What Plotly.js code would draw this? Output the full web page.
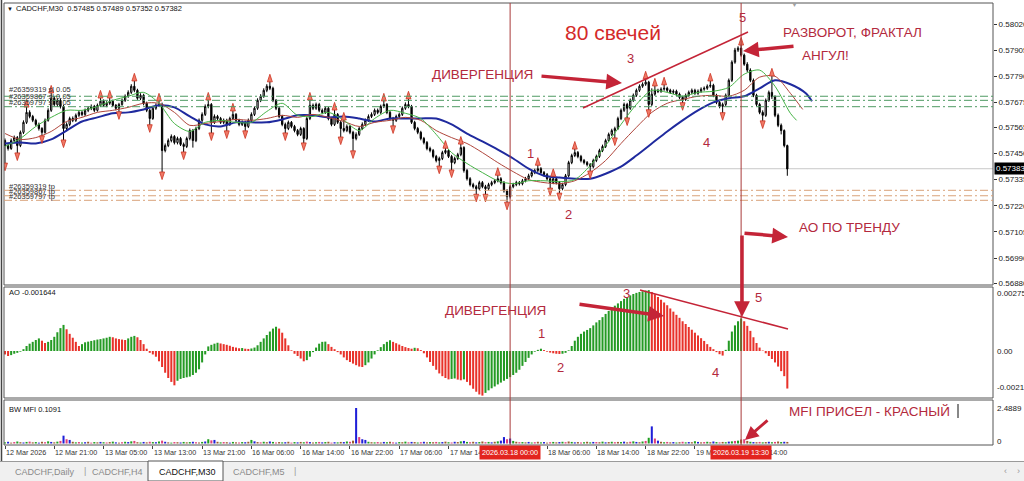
<!DOCTYPE html>
<html><head><meta charset="utf-8">
<script src="https://cdn.plot.ly/plotly-3.0.1.min.js"></script>
<style>html,body{margin:0;padding:0;background:#fff;}#c{width:1024px;height:481px;}</style>
</head><body><div id="c"></div>
<script>
// ---- DATA (prices as points above 0.57000, i.e. price = 0.57 + pts/100000) ----
const openPts = [507,485,472,507,520,485,543,587,631,613,596,578,560,543,596,640,693,666,684,657,
560,578,604,596,618,631,622,640,649,657,640,662,680,662,671,680,662,649,666,684,
702,719,746,728,693,706,671,640,604,649,662,666,463,485,507,525,498,516,490,481,
516,551,507,560,596,622,657,666,587,613,604,587,596,578,604,622,596,578,587,569,
596,622,649,684,702,728,746,737,684,649,613,578,560,587,569,551,534,560,516,604,
662,649,666,640,631,649,604,578,622,587,560,551,569,543,516,534,560,578,596,613,
622,640,631,657,666,631,604,596,613,622,649,666,657,587,560,543,516,498,472,463,
437,419,428,454,463,437,410,428,445,476,375,339,313,304,295,322,304,295,313,322,
330,339,322,286,260,304,313,322,317,330,339,352,366,375,383,366,357,339,322,339,
322,295,313,352,410,441,454,437,419,410,401,392,419,437,463,481,507,534,551,560,
604,640,666,649,684,706,728,746,755,764,666,711,728,724,733,737,728,719,724,711,
697,688,706,719,728,715,724,733,737,746,750,706,675,657,666,706,772,852,905,914,
883,843,817,772,706,666,631,618,684,719,700,618,574,551,485];
const highPts = [516,494,516,529,527,551,596,657,640,620,603,586,566,604,649,719,702,692,693,664,
587,612,613,626,640,638,648,657,666,664,670,697,688,680,697,687,668,673,692,710,
728,755,772,735,715,713,678,646,657,671,684,674,494,516,534,531,524,523,498,524,
560,558,568,604,631,666,688,672,622,620,611,604,603,612,640,628,603,596,594,604,
631,657,693,711,737,755,768,744,690,656,620,586,595,593,576,558,568,566,612,688,
670,674,673,648,657,655,610,644,628,594,600,578,575,550,543,568,587,604,622,631,
648,648,665,684,672,637,611,621,630,657,675,693,664,594,567,550,523,505,480,470,
444,436,462,476,470,444,436,453,494,482,382,346,321,312,330,329,312,321,330,338,
357,346,329,293,312,321,330,329,338,347,361,374,383,401,390,373,364,346,352,346,
329,321,360,418,449,472,461,444,426,417,408,427,445,471,489,515,542,559,568,612,
648,674,673,692,714,736,754,763,781,770,737,750,735,741,755,744,735,732,731,718,
704,714,727,736,735,732,741,745,754,772,757,713,683,674,714,780,860,915,922,930,
890,852,825,780,713,673,640,692,727,794,706,626,582,556,489];
const lowPts = [405,463,466,498,450,478,536,580,605,588,570,551,525,537,590,633,658,655,648,507,
551,570,588,589,611,614,615,632,641,632,634,655,655,654,664,655,640,631,660,677,
695,712,720,686,685,662,632,574,598,642,655,366,455,478,499,490,490,483,454,474,
508,476,500,553,589,615,649,538,580,596,580,579,547,571,597,589,570,571,547,562,
589,615,642,676,695,720,729,676,641,605,570,538,553,561,543,526,527,494,509,597,
641,642,632,623,624,596,570,571,580,520,543,544,535,459,508,527,553,571,589,606,
615,623,624,650,623,596,569,589,606,615,642,649,580,552,535,508,490,464,455,429,
411,392,421,447,430,375,403,421,438,366,331,305,296,268,288,297,268,288,306,315,
323,314,278,233,252,297,306,309,310,323,332,345,359,368,358,349,331,295,315,314,
273,288,306,345,403,434,429,411,402,393,370,385,412,430,456,474,500,527,516,553,
597,633,604,642,677,699,721,739,748,640,659,704,716,717,726,720,712,712,704,690,
671,681,699,712,708,708,717,726,730,739,698,667,649,627,659,699,765,845,897,876,
836,808,764,698,658,623,591,611,677,690,610,566,534,477,352];
const closePts = [485,472,507,520,485,543,587,631,613,596,578,560,543,596,640,693,666,684,657,560,
578,604,596,618,631,622,640,649,657,640,662,680,662,671,680,662,649,666,684,702,
719,746,728,693,706,671,640,604,649,662,666,463,485,507,525,498,516,490,481,516,
551,507,560,596,622,657,666,587,613,604,587,596,578,604,622,596,578,587,569,596,
622,649,684,702,728,746,737,684,649,613,578,560,587,569,551,534,560,516,604,662,
649,666,640,631,649,604,578,622,587,560,551,569,543,516,534,560,578,596,613,622,
640,631,657,666,631,604,596,613,622,649,666,657,587,560,543,516,498,472,463,437,
419,428,454,463,437,410,428,445,476,375,339,313,304,295,322,304,295,313,322,330,
339,322,286,260,304,313,322,317,330,339,352,366,375,383,366,357,339,322,339,322,
295,313,352,410,441,454,437,419,410,401,392,419,437,463,481,507,534,551,560,604,
640,666,649,684,706,728,746,755,764,666,711,728,724,733,737,728,719,724,711,697,
688,706,719,728,715,724,733,737,746,750,706,675,657,666,706,772,852,905,914,883,
843,817,772,706,666,631,618,684,719,700,618,574,551,485,382];

// Alligator (read at sampled bars)
const jawIdx = [0,5,10,15,20,25,30,35,40,45,50,55,60,65,70,75,80,85,90,95,100,105,110,115,120,125,130,135,140,145,150,155,160,165,170,175,180,185,190,195,200,205,210,215,220,225,230,235,240,245,250,255,260,262];
const jawPts = [494,498,494,512,551,591,609,627,631,644,662,653,613,578,569,587,587,587,600,618,618,609,613,604,591,604,604,604,604,578,538,503,467,428,383,352,344,339,339,361,392,441,494,547,596,640,675,693,702,737,772,755,715,680];
const teethIdx = [0,5,10,15,20,25,30,35,40,45,50,55,60,65,70,75,80,85,90,95,100,105,110,115,120,125,130,135,140,145,150,155,160,165,170,175,180,185,190,195,200,205,210,215,220,225,230,235,240,245,250,255,259];
const teethPts = [538,512,520,547,591,609,631,640,653,671,671,631,574,582,591,600,596,604,618,609,622,609,591,569,587,596,609,596,551,520,494,454,410,370,335,322,317,330,366,419,494,565,631,671,688,702,706,702,728,786,790,715,644];
const lipsIdx = [0,5,10,15,20,25,30,35,40,45,50,55,60,65,70,75,80,85,90,95,100,105,110,115,120,125,130,135,140,145,150,155,160,165,170,175,180,185,190,195,200,205,210,215,220,225,230,235,240,245,250,255,257];
const lipsPts = [481,516,569,609,640,640,657,684,702,719,671,582,547,587,596,587,587,635,671,618,613,631,596,551,604,640,627,604,534,454,406,366,330,317,330,330,326,335,397,485,578,666,728,719,702,719,724,741,799,817,746,627,596];

// Fractal bars
const fracUp = [7,15,31,34,42,50,66,74,86,99,107,110,123,131,143,148,160,173,178,185,208,211,214,229,239,249];
const fracDn = [0,4,12,19,37,47,51,58,67,72,78,91,97,109,113,126,141,145,153,156,163,177,180,190,198,202,209,220,233,246];

// Awesome Oscillator (points, 1e-5)
const aoPts = [-15,-22,-18,-12,-8,-3,8,22,32,40, 48,55,45,35,40,48,62,82,100,114,
95,75,58,40,22,30,38,41,44,47, 50,52,55,58,62,60,55,52,50,48,
55,62,66,60,48,30,10,-8,-15,-25, -45,-70,-95,-118,-135,-150,-130,-122,-118,-115,
-112,-105,-95,-80,-50,-15,20,27,32,36, 33,30,27,23,18,15,12,13,10,9,
11,15,25,40,55,70,85,98,106,98, 80,55,25,3,-12,-22,-33,-45,-40,-25,
-5,15,32,40,41,30,18,8,-5,-15, -28,-40,-48,-55,-62,-68,-70,-62,-50,-33,
-15,3,17,30,40,47,40,34,28,22, 17,13,10,14,12,4,-10,-28,-48,-65,
-82,-98,-110,-118,-124,-122,-120,-125,-128,-124, -135,-150,-165,-178,-190,-195,-183,-172,-163,-155,
-146,-138,-130,-122,-114,-105,-95,-82,-65,-48, -30,-15,-3,5,10,4,-3,-7,-10,-12,
-13,-12,-8,3,22,45,62,75,85,92, 100,112,125,135,148,162,175,188,198,208,
218,228,236,243,249,254,258,261,264,266, 258,248,236,224,212,200,186,172,158,145,
130,118,105,93,80,68,56,44,30,18, 8,-5,-14,-20,5,45,85,112,130,142,
130,110,88,60,35,15,2,-10,-22,-35, -50,-68,-88,-110,-164];

// BW MFI
const mfiVal = [0.08,0.12,0.06,0.10,0.14,0.09,0.07,0.11,0.13,0.08,0.10,0.06,0.12,0.09,0.15,0.11,0.08,0.13,0.18,0.55,
0.30,0.25,0.12,0.08,0.10,0.07,0.09,0.12,0.06,0.10,0.08,0.11,0.09,0.07,0.10,0.13,0.08,0.06,0.09,0.12,
0.10,0.15,0.18,0.09,0.07,0.11,0.08,0.12,0.10,0.09,0.14,0.20,0.12,0.08,0.06,0.10,0.09,0.07,0.11,0.08,
0.10,0.12,0.09,0.07,0.11,0.14,0.30,0.22,0.25,0.12,0.08,0.10,0.09,0.06,0.11,0.08,0.07,0.10,0.09,0.12,
0.25,0.15,0.10,0.08,0.12,0.09,0.14,0.11,0.07,0.10,0.08,0.09,0.12,0.06,0.10,0.08,0.11,0.09,0.13,0.10,
0.07,0.09,0.11,0.08,0.10,0.12,0.06,0.09,0.08,0.11,0.10,0.14,0.12,0.20,2.4889,0.45,0.30,0.25,0.12,0.09,
0.08,0.10,0.07,0.11,0.09,0.12,0.08,0.06,0.10,0.09,0.13,0.08,0.11,0.10,0.07,0.09,0.12,0.08,0.10,0.09,
0.11,0.08,0.10,0.13,0.09,0.07,0.12,0.10,0.15,0.18,0.11,0.09,0.12,0.08,0.10,0.14,0.09,0.11,0.08,0.12,
0.15,0.20,0.45,0.30,0.35,0.18,0.12,0.09,0.10,0.08,0.11,0.07,0.09,0.12,0.08,0.10,0.06,0.09,0.11,0.08,
0.10,0.12,0.09,0.14,0.11,0.08,0.10,0.07,0.09,0.12,0.08,0.11,0.10,0.09,0.13,0.08,0.10,0.12,0.09,0.11,
0.10,0.13,0.08,0.12,0.15,0.11,0.09,0.14,0.18,0.40,1.20,0.35,0.20,0.12,0.09,0.11,0.08,0.10,0.07,0.09,
0.12,0.08,0.10,0.09,0.16,0.11,0.08,0.10,0.12,0.09,0.14,0.10,0.08,0.11,0.09,0.13,0.15,0.18,0.20,0.28,
0.30,0.18,0.12,0.10,0.09,0.11,0.08,0.10,0.12,0.09,0.11,0.14,0.10,0.12,0.1091];
const mfiKind = "gbrpgrbgprgbrpgbrgpb"+"pbrgpgbrpgrbgprgbrpg"+"bgprgbrpgbgpbrgprbgr"+"gbprgbgpbrgprbgrpgbr"+
"gbrpgrbgprgbrpgbrgpb"+"rgpbgrpbgrbgprbpbbgr"+"gprbgrpbgrgpbrgpbrgr"+"pgbrgpbrgbgprbgrpgbr"+
"gbbpbgrpgrbgprgbrpgr"+"bgprgbrpgrgbprgbrgpr"+"gbrpgbrgpgbpbrgprbgr"+"pgbrgbrpgrbgprgbgpgr"+"prgbrpgrbgprgbr";

// Axis labels
const timeIdx = [0,16,32,48,64,80,96,112,128,144,176,192,208,224,240];
const timeText = ["12 Mar 2026","12 Mar 21:00","13 Mar 05:00","13 Mar 13:00","13 Mar 21:00","16 Mar 06:00","16 Mar 14:00","16 Mar 22:00","17 Mar 06:00","17 Mar 14:00","18 Mar 06:00","18 Mar 14:00","18 Mar 22:00","19 Mar 06:00","19 Mar 14:00"];
const priceTicks = ["0.58020","0.57905","0.57790","0.57675","0.57565","0.57450","0.57335","0.57220","0.57105","0.56990","0.56880"];
const markIdx = [164, 239];
const markText = ["2026.03.18 00:00","2026.03.19 13:30"];
const slLevels = [0.57702,0.57684,0.57656];
const tpLevels = [0.57288,0.57264,0.57244];
const orderIds = ["#26359319","#26359867","#26359797"];
const bidPrice = 0.57383;

// ---- LAYOUT GEOMETRY ----
const F = 'Liberation Sans, Arial, sans-serif';
const L=4, R=993, T=3, B=445, BAR0=5, BARW=3.08;
const pxX = x => (x-L)/(R-L);
const pxY = y => (B-y)/(B-T);
const priceAt = y => 0.58020 - (y-24)*(0.0114/259);
const aoAt = y => (351-y)*4.37e-5;
const mfiAt = y => (443.5-y)*(2.4889/35.5);
const toP = v => 0.57 + v/1e5;
const N = closePts.length;
const idx = Array.from({length:N},(_,i)=>i);
const ppx = 0.0114/259;
const RED = '#b3293d', RED2 = '#c42437';

const traces = [];
traces.push({type:'candlestick', x:idx, open:openPts.map(toP), high:highPts.map(toP), low:lowPts.map(toP), close:closePts.map(toP),
  increasing:{line:{color:'#000',width:1},fillcolor:'#fff'}, decreasing:{line:{color:'#000',width:1},fillcolor:'#000'},
  whiskerwidth:0, hoverinfo:'skip', xaxis:'x', yaxis:'y'});
traces.push({type:'scatter',mode:'lines',x:jawIdx,y:jawPts.map(toP),line:{color:'#1f2a9e',width:2,shape:'spline',smoothing:0.8},hoverinfo:'skip'});
traces.push({type:'scatter',mode:'lines',x:teethIdx,y:teethPts.map(toP),line:{color:'#b0463c',width:1,shape:'spline',smoothing:0.8},hoverinfo:'skip'});
traces.push({type:'scatter',mode:'lines',x:lipsIdx,y:lipsPts.map(toP),line:{color:'#46b446',width:1,shape:'spline',smoothing:0.8},hoverinfo:'skip'});
traces.push({type:'scatter',mode:'markers',x:fracUp,y:fracUp.map(i=>toP(highPts[i])+7*ppx),
  marker:{symbol:'arrow',size:8,color:'#f07a68',angle:0,line:{width:0.8,color:'#cc3322'}},hoverinfo:'skip'});
traces.push({type:'scatter',mode:'markers',x:fracDn,y:fracDn.map(i=>toP(lowPts[i])-7*ppx),
  marker:{symbol:'arrow',size:8,color:'#f07a68',angle:180,line:{width:0.8,color:'#cc3322'}},hoverinfo:'skip'});
const aoCol = aoPts.map((v,i)=> (i>0 && v>aoPts[i-1]) ? '#249a24' : '#e8322a');
traces.push({type:'bar',x:idx,y:aoPts.map(v=>v/1e5),width:0.66,marker:{color:aoCol,line:{width:0}},xaxis:'x',yaxis:'y2',hoverinfo:'skip'});
const kc = {g:'#1f9e1f',b:'#1f1fd8',p:'#e0407a',r:'#9a5a2a'};
traces.push({type:'bar',x:idx,y:mfiVal,width:0.66,marker:{color:idx.map(i=>kc[mfiKind[i]]||'#1f9e1f'),line:{width:0}},xaxis:'x',yaxis:'y3',hoverinfo:'skip'});

// ---- SHAPES ----
const shapes = [];
const rectPx = (x0,y0,x1,y1,line,fill,w) => ({type:'rect',xref:'paper',yref:'paper',x0:pxX(x0),x1:pxX(x1),y0:pxY(y1),y1:pxY(y0),line:{color:line||'rgba(0,0,0,0)',width:w===undefined?1:w},fillcolor:fill||'rgba(0,0,0,0)'});
const linePx = (x0,y0,x1,y1,color,w,dash) => ({type:'line',xref:'paper',yref:'paper',x0:pxX(x0),x1:pxX(x1),y0:pxY(y0),y1:pxY(y1),line:{color:color,width:w,dash:dash||'solid'}});
// tab strip
shapes.push(rectPx(0,461,1024,481,null,'#f0f0f0',0));
shapes.push(linePx(0,461.5,1024,461.5,'#9a9a9a',1));
shapes.push(rectPx(148,461,223,481,'#555','#ffffff',1));
// panel frames
shapes.push(rectPx(L,T,R,285,'#555',null,1));
shapes.push(rectPx(L,287,R,398,'#555',null,1));
shapes.push(rectPx(L,400,R,B,'#555',null,1));
shapes.push(linePx(1.5,0,1.5,461,'#444',1.5));
// bid line
shapes.push({type:'line',xref:'paper',yref:'y',x0:0,x1:1,y0:bidPrice,y1:bidPrice,line:{color:'#c8c8c8',width:1},layer:'below'});
// SL / TP lines
slLevels.forEach(v=>shapes.push({type:'line',xref:'paper',yref:'y',x0:0,x1:1,y0:v,y1:v,line:{color:'#4f9a63',width:1,dash:'8px,3px,2px,3px'}}));
tpLevels.forEach(v=>shapes.push({type:'line',xref:'paper',yref:'y',x0:0,x1:1,y0:v,y1:v,line:{color:'#d9a27a',width:1,dash:'8px,3px,2px,3px'}}));
// vertical marker lines
markIdx.forEach(i=>shapes.push({type:'line',xref:'x',yref:'paper',x0:i,x1:i,y0:0,y1:1,line:{color:'#a83a3a',width:1}}));
// hand-drawn trend lines
shapes.push(linePx(583,108,748,32,RED2,1.5));
shapes.push(linePx(640,290,788,329,RED2,1.5));
// text cursor
shapes.push(linePx(958,404,958,418,'#111',1));

// ---- ANNOTATIONS ----
const ann = [];
const txt = (x,y,s,size,color,anchor,extra) => Object.assign({xref:'paper',yref:'paper',x:pxX(x),y:pxY(y),text:s,showarrow:false,xanchor:anchor||'left',yanchor:'middle',font:{family:F,size:size,color:color}},extra||{});
const arrow = (hx,hy,tx,ty,w) => ({xref:'paper',yref:'paper',x:pxX(hx),y:pxY(hy),ax:tx-hx,ay:ty-hy,axref:'pixel',ayref:'pixel',text:'',showarrow:true,arrowhead:2,arrowsize:0.9,arrowwidth:w||3.5,arrowcolor:RED2,standoff:0});
ann.push(txt(5,9,'\u25BC',6,'#111'));
ann.push(txt(14,9,'CADCHF,M30  0.57485 0.57489 0.57352 0.57382',7.5,'#111'));
ann.push(txt(7,292,'AO -0.001644',7.5,'#111'));
ann.push(txt(7,409,'BW MFI 0.1091',7.5,'#111'));
ann.push(txt(794,5,'\u25BC',7,'#a0a0a0','center'));
[90,96.5,103].forEach((y,k)=>ann.push(txt(7,y,orderIds[k]+' sl 0.05',7.5,'#333')));
[186.5,191.5,196.5].forEach((y,k)=>ann.push(txt(7,y,orderIds[k]+' tp',7.5,'#333')));
// right axis labels of sub windows
ann.push(txt(995,293,'0.00275',8,'#222'));
ann.push(txt(995,351,'0.00',8,'#222'));
ann.push(txt(995,387,'-0.00210',8,'#222'));
ann.push(txt(995,408,'2.4889',8,'#222'));
ann.push(txt(995,441,'0',8,'#222'));
ann.push({xref:'paper',yref:'y',x:pxX(994),y:bidPrice,text:'0.57383',showarrow:false,xanchor:'left',yanchor:'middle',bgcolor:'#000',borderpad:1,font:{family:F,size:8,color:'#fff'}});
// time axis
timeIdx.forEach((i,k)=>ann.push({xref:'x',yref:'paper',x:i,y:pxY(452),text:timeText[k],showarrow:false,xanchor:'left',yanchor:'middle',xshift:-1,font:{family:F,size:7.2,color:'#333'}}));
markIdx.forEach((i,k)=>ann.push({xref:'x',yref:'paper',x:i,y:pxY(452),text:markText[k],showarrow:false,xanchor:'center',yanchor:'middle',bgcolor:'#e3241e',borderpad:2,font:{family:F,size:7.2,color:'#fff'}}));
// tabs
ann.push(txt(13,472,'CADCHF,Daily',9,'#8a8a8a'));
ann.push(txt(82,471,'|',9,'#9a9a9a'));
ann.push(txt(90,472,'CADCHF,H4',9,'#8a8a8a'));
ann.push(txt(157,472,'CADCHF,M30',9,'#111'));
ann.push(txt(231,472,'CADCHF,M5',9,'#8a8a8a'));
ann.push(txt(292,471,'|',9,'#9a9a9a'));
ann.push(txt(1005,471,'\u2039',9,'#999','center'));
ann.push(txt(1018,471,'\u203A',9,'#999','center'));
// red notes
ann.push(txt(563,33,'80 свечей',21,'#d42a2a'));
ann.push(txt(630,58,'3',13,RED,'center'));
ann.push(txt(742,17,'5',13,RED,'center'));
ann.push(txt(781,33,'РАЗВОРОТ, ФРАКТАЛ',13.5,RED));
ann.push(txt(800,55,'АНГУЛ!',13.5,RED));
ann.push(txt(430,75,'ДИВЕРГЕНЦИЯ',13.5,RED));
ann.push(txt(530,153,'1',13,RED,'center'));
ann.push(txt(568,215,'2',13,RED,'center'));
ann.push(txt(706,142,'4',13,RED,'center'));
ann.push(txt(797,227,'АО ПО ТРЕНДУ',13.5,RED));
ann.push(txt(443,310,'ДИВЕРГЕНЦИЯ',13.5,RED));
ann.push(txt(626,293,'3',13,RED,'center'));
ann.push(txt(758,297,'5',13,RED,'center'));
ann.push(txt(541,333,'1',13,RED,'center'));
ann.push(txt(560,367,'2',13,RED,'center'));
ann.push(txt(715,372,'4',13,RED,'center'));
ann.push(txt(787,411,'MFI ПРИСЕЛ - КРАСНЫЙ',13.5,RED));
// arrows
ann.push(arrow(622,83,540,76));
ann.push(arrow(743,51,795,46));
ann.push(arrow(788,237,743,233));
ann.push(arrow(742,317,742,234));
ann.push(arrow(664,316,578,304));
ann.push(arrow(745,440,769,419,3));

const layout = {
  width:1024, height:481, margin:{l:L,r:1024-R,t:T,b:481-B,pad:0},
  paper_bgcolor:'#fff', plot_bgcolor:'#fff', showlegend:false, boxgap:0.4,
  font:{family:F,size:8,color:'#222'},
  xaxis:{domain:[0,1],range:[(L-BAR0)/BARW,(R-BAR0)/BARW],anchor:'y3',tickvals:timeIdx.concat(markIdx),ticks:'outside',ticklen:3,tickcolor:'#444',
    showticklabels:false,showgrid:false,zeroline:false,showline:false,rangeslider:{visible:false},fixedrange:true},
  yaxis:{domain:[pxY(285),1],range:[priceAt(285),priceAt(T)],side:'right',anchor:'x',tickvals:priceTicks.map(Number),ticktext:priceTicks,
    ticks:'outside',ticklen:3,tickcolor:'#333',tickfont:{family:F,size:8,color:'#222'},showgrid:false,zeroline:false,showline:false,fixedrange:true},
  yaxis2:{domain:[pxY(398),pxY(287)],range:[aoAt(398),aoAt(287)],anchor:'x',showticklabels:false,ticks:'',showgrid:false,zeroline:false,fixedrange:true},
  yaxis3:{domain:[0,pxY(400)],range:[mfiAt(445),mfiAt(400)],anchor:'x',showticklabels:false,ticks:'',showgrid:false,zeroline:false,fixedrange:true},
  shapes:shapes, annotations:ann
};
Plotly.newPlot('c',traces,layout,{displayModeBar:false,staticPlot:true});
</script></body></html>
